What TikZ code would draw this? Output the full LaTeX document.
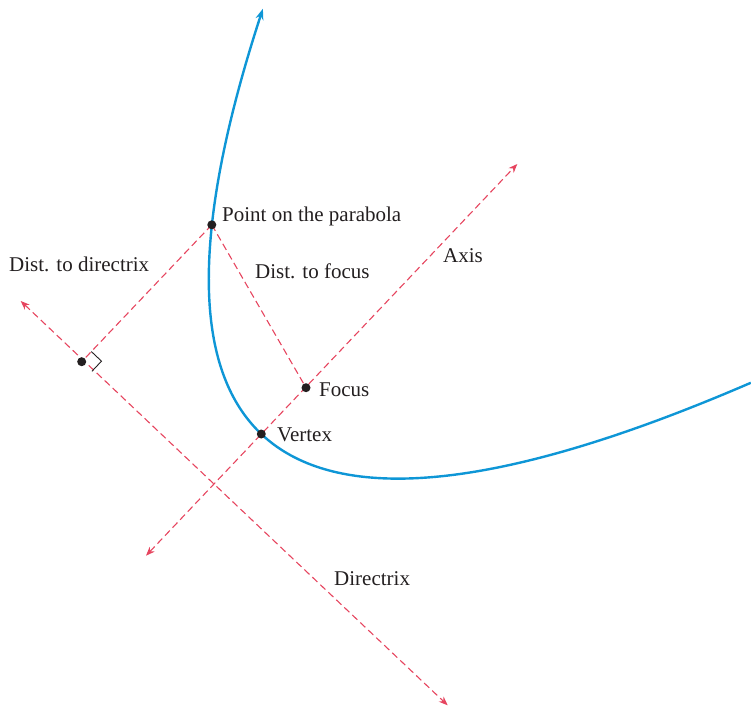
\documentclass[tikz,border=0pt]{standalone}
\usepackage{fontspec}
\setmainfont{Liberation Serif}
\usetikzlibrary{arrows.meta,calc}
\definecolor{parblue}{HTML}{0E96D6}
\definecolor{dashred}{HTML}{E6455F}
\definecolor{dotblack}{HTML}{231F20}
\tikzset{
  redline/.style={draw=dashred, line width=1.1pt, dash pattern=on 7pt off 4pt},
  redarrows/.style={redline, {Stealth[length=9pt,width=7pt]}-{Stealth[length=9pt,width=7pt]}},
  pdot/.style={circle, fill=dotblack, inner sep=0pt, minimum size=9pt},
  lbl/.style={anchor=base west, inner sep=0pt, text=dotblack, font=\fontsize{21}{25}\selectfont},
  curve/.style={draw=parblue, line width=2.4pt},
}
\begin{document}
\begin{tikzpicture}[x=1pt,y=-1pt]
\useasboundingbox (0,0) rectangle (751,706);
% key points
\coordinate (V) at (261.3,434);
\coordinate (F) at (306,387.7);
\coordinate (P) at (211.8,224.8);
\coordinate (D) at (81.7,361.7);
\coordinate (AxB) at (146,555.7);
\coordinate (AxT) at (517.3,164);
\coordinate (DrT) at (20.7,301);
\coordinate (DrB) at (447.7,705.3);
% axis and directrix
\draw[redarrows] (AxB) -- (AxT);
\draw[redarrows] (DrT) -- (DrB);
% distances
\draw[redline] (P) -- (F);
\draw[redline] (P) -- (D);
% right angle mark
\draw[dotblack, line width=0.9pt] ([shift={(9.63,-10.16)}]D) -- ++(10.17,9.63) -- ++(-9.63,10.16);
% parabola
\draw[curve, -{Stealth[length=11pt,width=8pt]}] plot[domain=3.20:-2.915, samples=160, variable=\t]
  ({261.3+72.62*\t+25.109*\t*\t},{434+68.76*\t-26.489*\t*\t});
% dots
\node[pdot] (nP) at (P) {};
\node[pdot] (nF) at (F) {};
\node[pdot] (nV) at (V) {};
\node[pdot] (nD) at (D) {};
% labels
\node[lbl] (lP) at (222,221.7) {Point on the parabola};
\node[lbl] (lDF) at (255,278.3) {Dist. to focus};
\node[lbl] (lAx) at (443,262.7) {Axis};
\node[lbl] (lDD) at (9,271.7) {Dist. to directrix};
\node[lbl] (lF) at (319,396) {Focus};
\node[lbl] (lV) at (277,441) {Vertex};
\node[lbl] (lDr) at (334,585) {Directrix};
\end{tikzpicture}
\end{document}
